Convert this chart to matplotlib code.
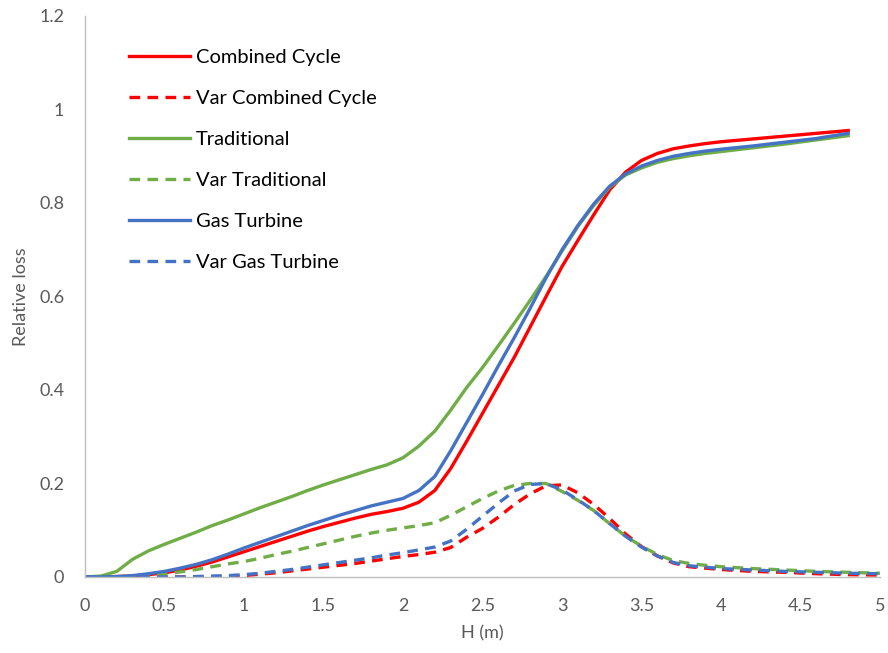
import matplotlib.pyplot as plt

# eje H (m)
h = [0.0, 0.1, 0.2, 0.3, 0.4, 0.5, 0.6, 0.7, 0.8, 0.9,
     1.0, 1.1, 1.2, 1.3, 1.4, 1.5, 1.6, 1.7, 1.8, 1.9,
     2.0, 2.1, 2.2, 2.3, 2.4, 2.5, 2.6, 2.7, 2.8, 2.9,
     3.0, 3.1, 3.2, 3.3, 3.4, 3.5, 3.6, 3.7, 3.8, 3.9,
     4.0, 4.2, 4.4, 4.6, 4.8, 5.0]

# curvas de perdida relativa (hasta 4.8)
combined = [0.0, 0.0, 0.001, 0.002, 0.005, 0.009, 0.015, 0.023, 0.032, 0.043,
            0.054, 0.065, 0.076, 0.087, 0.098, 0.108, 0.117, 0.126, 0.134, 0.140,
            0.147, 0.160, 0.185, 0.232, 0.290, 0.350, 0.410, 0.470, 0.535, 0.600,
            0.664, 0.720, 0.775, 0.828, 0.866, 0.891, 0.906, 0.916, 0.922, 0.927,
            0.931, 0.937, 0.943, 0.949, 0.955]
traditional = [0.0, 0.002, 0.012, 0.038, 0.056, 0.070, 0.083, 0.096, 0.110, 0.122,
               0.135, 0.148, 0.160, 0.172, 0.185, 0.197, 0.208, 0.219, 0.230, 0.240,
               0.255, 0.280, 0.312, 0.357, 0.405, 0.448, 0.495, 0.543, 0.592, 0.643,
               0.697, 0.750, 0.795, 0.834, 0.860, 0.875, 0.887, 0.895, 0.901, 0.906,
               0.910, 0.918, 0.926, 0.935, 0.944]
gas_turbine = [0.0, 0.0, 0.001, 0.003, 0.007, 0.012, 0.019, 0.027, 0.037, 0.049,
               0.062, 0.074, 0.086, 0.098, 0.110, 0.121, 0.132, 0.142, 0.152, 0.160,
               0.168, 0.185, 0.215, 0.270, 0.330, 0.390, 0.452, 0.512, 0.575, 0.640,
               0.700, 0.752, 0.798, 0.836, 0.862, 0.879, 0.891, 0.900, 0.906, 0.911,
               0.915, 0.922, 0.930, 0.938, 0.949]

# varianzas (hasta 5.0)
var_combined = [0.0, 0.0, 0.0, 0.0, 0.0, 0.0, 0.0, 0.0, 0.0, 0.001,
                0.003, 0.006, 0.009, 0.013, 0.017, 0.021, 0.025, 0.029, 0.034, 0.039,
                0.044, 0.048, 0.053, 0.063, 0.085, 0.104, 0.128, 0.155, 0.178, 0.195,
                0.197, 0.180, 0.155, 0.125, 0.092, 0.065, 0.045, 0.030, 0.022, 0.019,
                0.016, 0.012, 0.010, 0.007, 0.005, 0.004]
var_traditional = [0.0, 0.0, 0.0, 0.001, 0.002, 0.006, 0.011, 0.016, 0.022, 0.028,
                   0.033, 0.040, 0.048, 0.055, 0.063, 0.071, 0.079, 0.087, 0.094, 0.100,
                   0.105, 0.110, 0.116, 0.132, 0.150, 0.168, 0.184, 0.196, 0.200, 0.200,
                   0.183, 0.164, 0.142, 0.114, 0.087, 0.066, 0.048, 0.035, 0.029, 0.025,
                   0.022, 0.018, 0.015, 0.012, 0.010, 0.008]
var_gas_turbine = [0.0, 0.0, 0.0, 0.0, 0.0, 0.0, 0.0, 0.001, 0.002, 0.003,
                   0.005, 0.008, 0.012, 0.016, 0.021, 0.026, 0.031, 0.036, 0.041, 0.047,
                   0.052, 0.058, 0.064, 0.077, 0.102, 0.130, 0.158, 0.184, 0.198, 0.200,
                   0.186, 0.165, 0.142, 0.114, 0.087, 0.064, 0.045, 0.031, 0.024, 0.021,
                   0.018, 0.015, 0.012, 0.010, 0.008, 0.007]

x_ticks = [0, 0.5, 1, 1.5, 2, 2.5, 3, 3.5, 4, 4.5, 5]
x_labels = ["0", "0.5", "1", "1.5", "2", "2.5", "3", "3.5", "4", "4.5", "5"]
y_ticks = [0, 0.2, 0.4, 0.6, 0.8, 1.0, 1.2]
y_labels = ["0", "0.2", "0.4", "0.6", "0.8", "1", "1.2"]

rojo = "#FF0000"
verde = "#70AD47"
azul = "#4472C4"
gris = "#595959"

plt.rcParams['font.family'] = ['Lato', 'DejaVu Sans']

fig = plt.figure(figsize=(8.88, 6.53), dpi=100)
ax = fig.add_axes([0.0957, 0.1164, 0.8953, 0.8591])

dash = (0, (3.2, 2.2))
lw = 2.4
ax.plot(h[:len(combined)], combined, color=rojo, lw=lw, label="Combined Cycle")
ax.plot(h, var_combined, color=rojo, lw=lw, ls=dash, label="Var Combined Cycle")
ax.plot(h[:len(traditional)], traditional, color=verde, lw=lw, label="Traditional")
ax.plot(h, var_traditional, color=verde, lw=lw, ls=dash, label="Var Traditional")
ax.plot(h[:len(gas_turbine)], gas_turbine, color=azul, lw=lw, label="Gas Turbine")
ax.plot(h, var_gas_turbine, color=azul, lw=lw, ls=dash, label="Var Gas Turbine")

ax.set_xlim(0, 5)
ax.set_ylim(0, 1.2)
ax.set_xticks(x_ticks)
ax.set_xticklabels(x_labels)
ax.set_yticks(y_ticks)
ax.set_yticklabels(y_labels)
ax.tick_params(length=0, labelsize=13, labelcolor=gris)
ax.tick_params(axis='x', pad=15)
ax.tick_params(axis='y', pad=15)

for s in ['top', 'right']:
    ax.spines[s].set_visible(False)
for s in ['left', 'bottom']:
    ax.spines[s].set_color("#BFBFBF")
    ax.spines[s].set_linewidth(1.0)

ax.set_xlabel("H (m)", fontsize=13, color=gris, labelpad=8)
ax.set_ylabel("Relative loss", fontsize=13, color=gris, labelpad=7)

ax.legend(loc='upper left', bbox_to_anchor=(0.033, 0.973), frameon=False,
          fontsize=14.5, handlelength=3.0, handletextpad=0.3, labelspacing=1.18)

fig.savefig("out.png", dpi=100)
